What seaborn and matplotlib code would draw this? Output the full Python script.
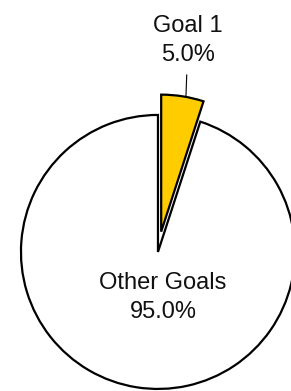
import matplotlib

matplotlib.use("Agg")
import matplotlib.pyplot as plt
import seaborn as sns

categories = ["Goal 1", "Other Goals"]
shares = [5.0, 95.0]
slice_colors = ["#FFCC00", "#FFFFFF"]
explode = [0.15, 0.0]

sns.set_theme(style="white")
plt.rcParams["font.family"] = ["Liberation Sans", "DejaVu Sans"]

fig = plt.figure(figsize=(2.91, 3.91), dpi=100)
ax = fig.add_axes([0, 0, 1, 1])

wedges, _ = ax.pie(
    shares,
    colors=slice_colors,
    explode=explode,
    startangle=90,
    counterclock=False,
    wedgeprops={"edgecolor": "black", "linewidth": 1.6},
)

ax.set_xlim(-1.153, 0.971)
ax.set_ylim(-1.015, 1.839)
ax.set_aspect("equal")
ax.axis("off")

# label for the small exploded slice, with a leader line
ax.annotate(
    f"{categories[0]}\n{shares[0]:.1f}%",
    xy=(0.204, 1.131),
    xytext=(0.219, 1.543),
    ha="center",
    va="center",
    fontsize=17,
    linespacing=1.4,
    color="#111111",
    arrowprops={"arrowstyle": "-", "color": "black", "lw": 0.8, "shrinkA": 4, "shrinkB": 0},
)
ax.text(
    0.036,
    -0.332,
    f"{categories[1]}\n{shares[1]:.1f}%",
    ha="center",
    va="center",
    fontsize=17,
    linespacing=1.4,
    color="#111111",
)

fig.savefig("out.png", dpi=100, facecolor="white")
